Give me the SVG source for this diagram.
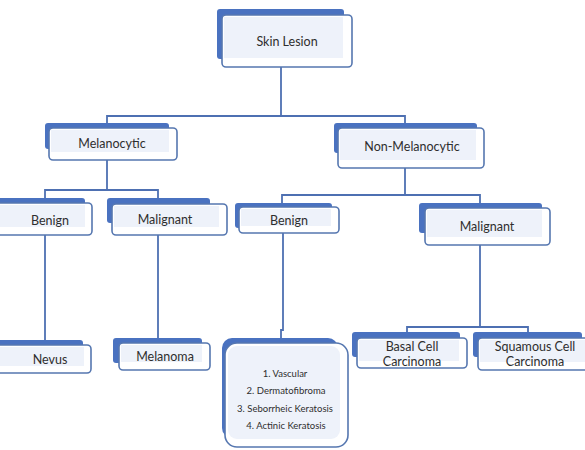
<svg xmlns="http://www.w3.org/2000/svg" width="585" height="450" viewBox="0 0 585 450">
<style>
.bg{fill:#ffffff}
.back{fill:#4a72c0}
.front{fill:#ffffff;stroke:#5677b0;stroke-width:1.6}
.inner{fill:#eef2fa}
.t{font-family:Lato,"Liberation Sans",sans-serif;font-size:12.5px;fill:#2e2e2e;text-anchor:middle}
.s{font-size:9.5px}
.conn{fill:none;stroke:#4e70b2;stroke-width:1.8}
</style>
<rect class="bg" x="0" y="0" width="585" height="450"/>
<g id="connectors">
<path class="conn" d="M281 67V116M107 128V116H405V128"/>
<path class="conn" d="M107 160V190M45 203V190H158V204"/>
<path class="conn" d="M405 168V195M282 207V195H480V208"/>
<path class="conn" d="M45 235V345M158 235V343"/>
<path class="conn" d="M283 233V330H281V343"/>
<path class="conn" d="M480 245V327M407 338V327H528V338"/>
</g>
<g id="skin-lesion">
<rect class="back" x="217" y="9" width="127" height="50" rx="3"/>
<rect class="front" x="222" y="15" width="130" height="52" rx="4"/>
<rect class="inner" x="224" y="17" width="119" height="41"/>
<text class="t" x="287" y="46">Skin Lesion</text>
</g>
<g id="melanocytic">
<rect class="back" x="45" y="123" width="124" height="26" rx="3"/>
<rect class="front" x="49" y="128" width="128" height="32" rx="4"/>
<rect class="inner" x="51" y="130" width="118" height="22"/>
<text class="t" x="112" y="148">Melanocytic</text>
</g>
<g id="non-melanocytic">
<rect class="back" x="334" y="123" width="143" height="30" rx="3"/>
<rect class="front" x="338" y="128" width="146" height="40" rx="4"/>
<rect class="inner" x="340" y="130" width="136" height="30"/>
<text class="t" x="412" y="151">Non-Melanocytic</text>
</g>
<g id="benign-left">
<rect class="back" x="-10" y="198" width="95" height="22" rx="3"/>
<rect class="front" x="-5" y="203" width="97" height="32" rx="4"/>
<rect class="inner" x="0" y="205" width="85" height="22"/>
<text class="t" x="50" y="225">Benign</text>
</g>
<g id="malignant-left">
<rect class="back" x="107" y="198" width="103" height="25" rx="3"/>
<rect class="front" x="112" y="204" width="115" height="31" rx="4"/>
<rect class="inner" x="114" y="206" width="105" height="21"/>
<text class="t" x="165" y="224">Malignant</text>
</g>
<g id="benign-right">
<rect class="back" x="235" y="203" width="97" height="25" rx="3"/>
<rect class="front" x="239" y="207" width="100" height="26" rx="4"/>
<rect class="inner" x="241" y="209" width="90" height="17"/>
<text class="t" x="289" y="225">Benign</text>
</g>
<g id="malignant-right">
<rect class="back" x="419" y="203" width="123" height="30" rx="3"/>
<rect class="front" x="425" y="208" width="125" height="37" rx="4"/>
<rect class="inner" x="427" y="210" width="115" height="27"/>
<text class="t" x="487" y="231">Malignant</text>
</g>
<g id="nevus">
<rect class="back" x="-10" y="340" width="93" height="20" rx="3"/>
<rect class="front" x="-5" y="345" width="96" height="28" rx="4"/>
<rect class="inner" x="0" y="347" width="84" height="19"/>
<text class="t" x="50" y="364">Nevus</text>
</g>
<g id="melanoma">
<rect class="back" x="113" y="338" width="89" height="25" rx="3"/>
<rect class="front" x="119" y="343" width="91" height="27" rx="4"/>
<rect class="inner" x="121" y="345" width="81" height="17"/>
<text class="t" x="165" y="361">Melanoma</text>
</g>
<g id="benign-list">
<rect class="back" x="222" y="338" width="116" height="100" rx="10"/>
<rect class="front" x="225" y="343" width="123" height="104" rx="12"/>
<rect class="inner" x="228" y="346" width="112" height="93" rx="9"/>
<text class="t s" x="285" y="377">1. Vascular</text>
<text class="t s" x="286" y="394">2. Dermatofibroma</text>
<text class="t s" x="285" y="412">3. Seborrheic Keratosis</text>
<text class="t s" x="286" y="429">4. Actinic Keratosis</text>
</g>
<g id="basal-cell">
<rect class="back" x="352" y="332" width="108" height="25" rx="3"/>
<rect class="front" x="357" y="338" width="110" height="30" rx="4"/>
<rect class="inner" x="359" y="340" width="100" height="21"/>
<text class="t" x="412" y="351">Basal Cell</text>
<text class="t" x="412" y="366">Carcinoma</text>
</g>
<g id="squamous-cell">
<rect class="back" x="473" y="332" width="109" height="25" rx="3"/>
<rect class="front" x="478" y="338" width="112" height="32" rx="4"/>
<rect class="inner" x="480" y="340" width="105" height="22"/>
<text class="t" x="535" y="351">Squamous Cell</text>
<text class="t" x="535" y="366">Carcinoma</text>
</g>
</svg>
